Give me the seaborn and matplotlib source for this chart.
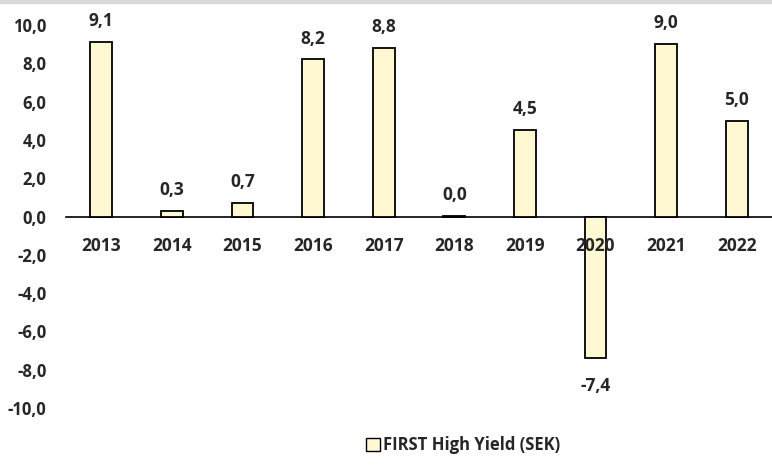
import seaborn as sns
import matplotlib.pyplot as plt
import matplotlib.patches as mpatches
import pandas as pd

years = ['2013', '2014', '2015', '2016', '2017', '2018', '2019', '2020', '2021', '2022']
returns = [9.1, 0.3, 0.7, 8.2, 8.8, 0.04, 4.5, -7.4, 9.0, 5.0]
series_name = 'FIRST High Yield (SEK)'
yticks = [-10, -8, -6, -4, -2, 0, 2, 4, 6, 8, 10]

bar_color = '#FFF8D2'

sns.set_style('white')
plt.rcParams['font.family'] = ['Open Sans', 'DejaVu Sans']

df = pd.DataFrame({'year': years, 'ret': returns})

fig = plt.figure(figsize=(7.72, 4.65), dpi=100)
ax = fig.add_axes([66 / 772, 1 - 408 / 465, 1 - 66 / 772, (408 - 25) / 465])

sns.barplot(data=df, x='year', y='ret', color=bar_color, width=0.31,
            edgecolor='black', linewidth=1.3, saturation=1, ax=ax, zorder=3)

ax.set_ylim(-10, 10)
ax.set_xlim(-0.5, len(years) - 0.5)
ax.set_yticks(yticks)
ax.set_yticklabels([f'{v:.1f}'.replace('.', ',') for v in yticks], fontsize=12, fontweight='bold')
ax.set_xticks([])
ax.set_xlabel('')
ax.set_ylabel('')

for s in ['top', 'right', 'left']:
    ax.spines[s].set_visible(False)
ax.spines['bottom'].set_position(('data', 0))
ax.spines['bottom'].set_color('black')
ax.spines['bottom'].set_linewidth(1.2)
ax.tick_params(axis='y', length=0, pad=14)

for i, y in enumerate(years):
    ax.annotate(y, (i, 0), xytext=(0, -21), textcoords='offset points',
                ha='center', va='center', fontsize=12.5, fontweight='bold', zorder=5)

for i, v in enumerate(returns):
    off = 15 if v >= 0 else -20
    ax.annotate(f'{v:.1f}'.replace('.', ','), (i, v), xytext=(0, off),
                textcoords='offset points', ha='center', va='center',
                fontsize=12.5, fontweight='bold', zorder=5)

handle = mpatches.Patch(facecolor=bar_color, edgecolor='black', linewidth=1)
fig.legend([handle], [series_name], loc='center', bbox_to_anchor=(0.6, 1 - 445 / 465),
           frameon=False, handlelength=0.8, handleheight=0.8, handletextpad=0.2,
           prop={'weight': 'bold', 'size': 12})

fig.patches.append(mpatches.Rectangle((0, 1 - 3 / 465), 1, 3 / 465, transform=fig.transFigure,
                                      color='#D9D9D9', zorder=0))

fig.savefig('out.png', dpi=100)
